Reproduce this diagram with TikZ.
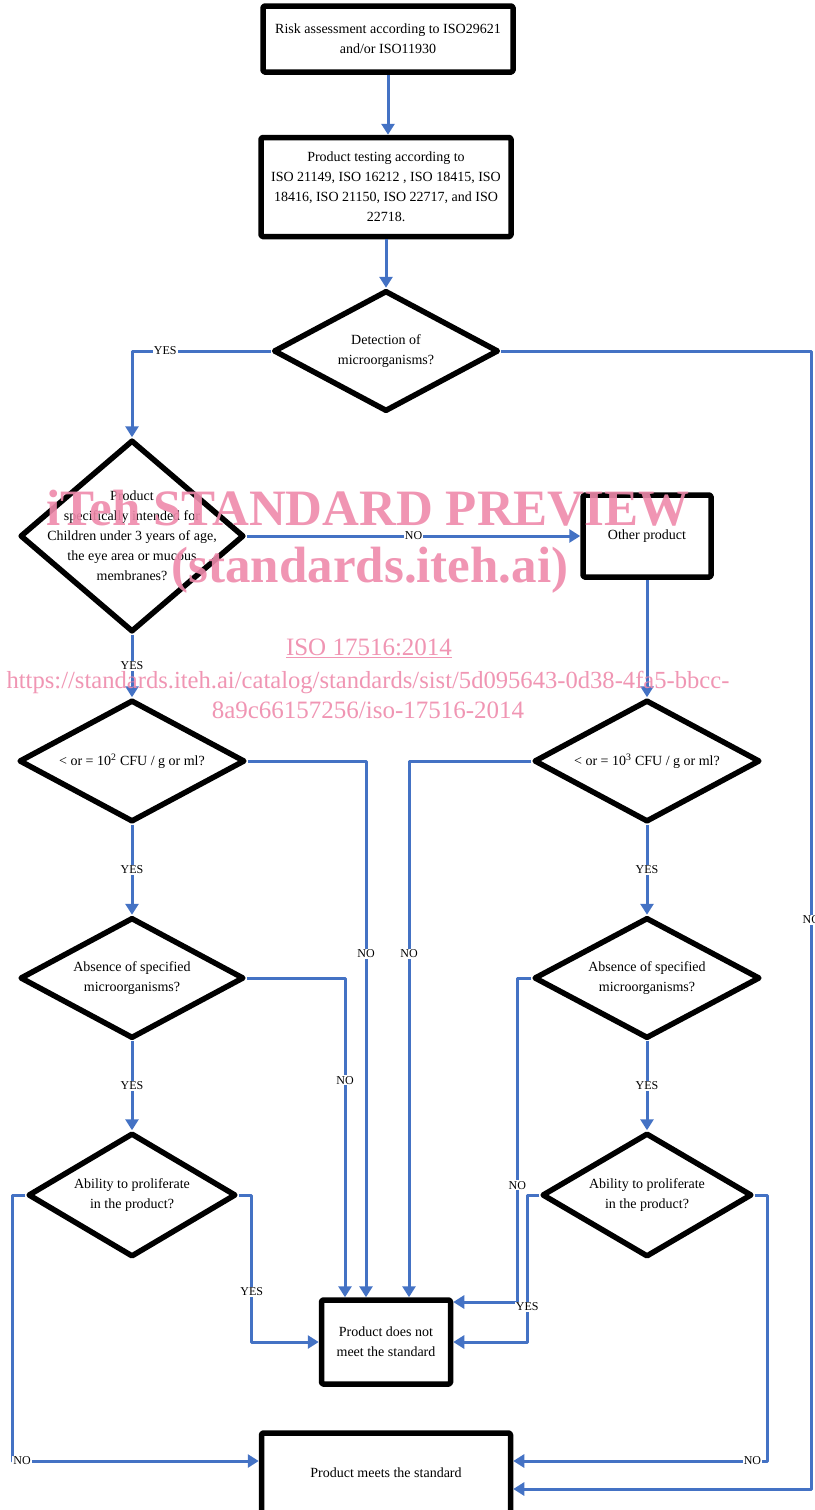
\documentclass[tikz,border=0pt]{standalone}
\usepackage{fontspec}
\setmainfont{Liberation Serif}
\usetikzlibrary{shapes.geometric,arrows.meta,calc}
\definecolor{flowblue}{HTML}{4472C4}
\definecolor{wmpink}{HTML}{EE8AAB}
\begin{document}
\begin{tikzpicture}[x=1pt,y=-1pt,line join=round,>={Triangle[length=11pt,width=13pt]},
	box/.style={draw,line width=5.5pt,rounded corners=1.5pt,inner sep=0pt,align=center,font=\fontsize{14}{20}\selectfont},
	dia/.style={draw,line width=5.5pt,diamond,inner sep=0pt},
	txt/.style={align=center,font=\fontsize{14}{20}\selectfont},
	lab/.style={fill=white,inner sep=1pt,font=\fontsize{12}{12}\selectfont},
	con/.style={draw=flowblue,line width=3pt},
	wm/.style={text=wmpink,opacity=.9}]
		\useasboundingbox (0,0) rectangle (814,1510);
		\node[box,minimum width=250,minimum height=66] (risk) at (388,39) {Risk assessment according to ISO29621\\and/or ISO11930};
		\node[box,minimum width=250,minimum height=99] (testing) at (386,187) {Product testing according to\\ISO 21149, ISO 16212 , ISO 18415, ISO\\18416, ISO 21150, ISO 22717, and ISO\\22718.};
		\node[dia,minimum width=225,minimum height=121] (detect) at (386,351) {};
		\node[txt] (detect-t) at (detect) {Detection of\\microorganisms?};
		\node[dia,minimum width=224,minimum height=192] (child) at (132,536) {};
		\node[txt] (child-t) at (child) {Product\\specifically intended for\\Children under 3 years of age,\\the eye area or mucous\\membranes?};
		\node[box,minimum width=128,minimum height=82] (other) at (647,536) {Other product};
		\node[dia,minimum width=226,minimum height=122] (lowa) at (132,761) {};
		\node[txt] (lowa-t) at (lowa) {< or = 10\textsuperscript{2} CFU / g or ml?};
		\node[dia,minimum width=226,minimum height=122] (lowb) at (647,761) {};
		\node[txt] (lowb-t) at (lowb) {< or = 10\textsuperscript{3} CFU / g or ml?};
		\node[dia,minimum width=224,minimum height=121] (absa) at (132,978) {};
		\node[txt] (absa-t) at (absa) {Absence of specified\\microorganisms?};
		\node[dia,minimum width=226,minimum height=121] (absb) at (647,978) {};
		\node[txt] (absb-t) at (absb) {Absence of specified\\microorganisms?};
		\node[dia,minimum width=208,minimum height=124] (prola) at (132,1195) {};
		\node[txt] (prola-t) at (prola) {Ability to proliferate\\in the product?};
		\node[dia,minimum width=210,minimum height=124] (prolb) at (647,1195) {};
		\node[txt] (prolb-t) at (prolb) {Ability to proliferate\\in the product?};
		\node[box,minimum width=129,minimum height=84] (fail) at (386,1342) {Product does not\\meet the standard};
		\node[box,minimum width=249,minimum height=80] (pass) at (386,1473) {Product meets the standard};
		\draw[con,->] (risk.south) -- (risk.south |- testing.north);
		\draw[con,->] (testing) -- (detect);
		\draw[con,->] (detect.west) -| (child.north) node[lab,pos=.38]{YES};
		\draw[con,->] (detect.east) -| ($(pass.east)+(298,16)$) node[lab,pos=.75]{NO} -- ($(pass.east)+(0,16)$);
		\draw[con,->] (child.east) -- (other.west) node[lab,midway]{NO};
		\draw[con,->] (child) -- (lowa) node[lab,midway]{YES};
		\draw[con,->] (other) -- (lowb);
		\draw[con,->] (lowa) -- (absa) node[lab,midway]{YES};
		\draw[con,->] (lowb) -- (absb) node[lab,midway]{YES};
		\draw[con,->] (absa) -- (prola) node[lab,midway]{YES};
		\draw[con,->] (absb) -- (prolb) node[lab,midway]{YES};
		\draw[con,->] (lowa.east) -| ($(fail.north)+(-20,0)$) node[lab,pos=.68]{NO};
		\draw[con,->] (lowb.west) -| ($(fail.north)+(23,0)$) node[lab,pos=.68]{NO};
		\draw[con,->] (absa.east) -| ($(fail.north)+(-41,0)$) node[lab,pos=.66]{NO};
		\draw[con,->] (absb.west) -- ++(-14,0) |- ($(fail.east)+(0,-40)$) node[lab,pos=.32]{NO};
		\draw[con,->] (prola.east) -- ++(13,0) |- (fail.west) node[lab,pos=.33]{YES};
		\draw[con,->] (prolb.west) -- ++(-12,0) |- (fail.east) node[lab,pos=.38]{YES};
		\draw[con,->] (prola.west) -- ++(-13,0) |- ($(pass.west)+(0,-12)$) node[lab,pos=.52]{NO};
		\draw[con,->] (prolb.east) -- ++(13,0) |- ($(pass.east)+(0,-12)$) node[lab,pos=.53]{NO};
		\node[wm,anchor=base,font=\bfseries\fontsize{51}{51}\selectfont] (wm1) at (368,525) {iTeh STANDARD PREVIEW};
		\node[wm,anchor=base,font=\bfseries\fontsize{51}{51}\selectfont] (wm2) at (370,582) {(standards.iteh.ai)};
		\node[wm,anchor=base,font=\fontsize{25}{25}\selectfont] (wm3) at (369,655) {\underline{ISO 17516:2014}};
		\node[wm,anchor=base,font=\fontsize{24.6}{25}\selectfont] (wm4) at (368,688) {https://standards.iteh.ai/catalog/standards/sist/5d095643-0d38-4fa5-bbcc-};
		\node[wm,anchor=base,font=\fontsize{25}{25}\selectfont] (wm5) at (368,718) {8a9c66157256/iso-17516-2014};
\end{tikzpicture}
\end{document}
